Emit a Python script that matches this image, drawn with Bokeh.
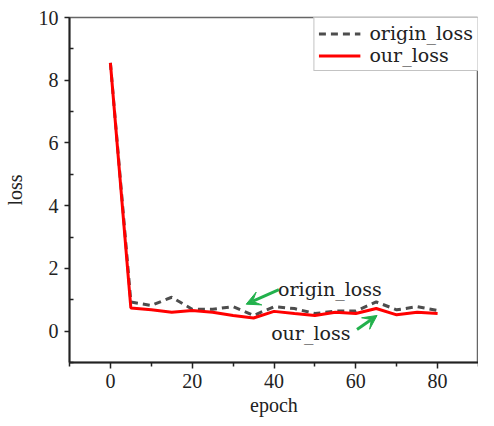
from bokeh.plotting import figure
from bokeh.models import FixedTicker, Legend, LegendItem, Label, Arrow, VeeHead, Range1d
from bokeh.embed import file_html
from bokeh.resources import INLINE

epochs = [0, 5, 10, 15, 20, 25, 30, 35, 40, 45, 50, 55, 60, 65, 70, 75, 80]
origin_loss = [8.55, 0.93, 0.82, 1.08, 0.70, 0.70, 0.78, 0.50, 0.78, 0.72, 0.56, 0.64, 0.64, 0.93, 0.68, 0.78, 0.66]
our_loss = [8.55, 0.74, 0.68, 0.60, 0.66, 0.60, 0.50, 0.42, 0.63, 0.56, 0.50, 0.60, 0.56, 0.72, 0.52, 0.60, 0.56]
x_ticks = [0, 20, 40, 60, 80]
x_minor = [-10, 10, 30, 50, 70, 90]
y_ticks = [0, 2, 4, 6, 8, 10]
y_minor = [-1, 1, 3, 5, 7, 9]

SERIF = "Liberation Serif"
TXT = "DejaVu Serif"

p = figure(width=478, height=418, output_backend="svg", toolbar_location=None,
           x_range=Range1d(-10, 90), y_range=Range1d(-1, 10),
           min_border_left=60, min_border_top=17, min_border_right=0, min_border_bottom=50)
p.grid.visible = False
p.background_fill_color = "white"
p.border_fill_color = "white"
p.outline_line_color = "#666666"
p.outline_line_width = 1.5

r_orig = p.line(epochs, origin_loss, line_color="#4d4d4d", line_width=3, line_dash="7 5")
r_our = p.line(epochs, our_loss, line_color="#ff0000", line_width=3)

for axes in (p.xaxis, p.yaxis):
    axes.axis_line_color = "#222222"
    axes.axis_line_width = 2
    axes.major_tick_line_color = "#222222"
    axes.minor_tick_line_color = "#222222"
    axes.major_tick_line_width = 1.5
    axes.minor_tick_line_width = 1.5
    axes.major_label_text_font = SERIF
    axes.major_label_text_font_size = "20px"
    axes.major_label_text_color = "#222222"
    axes.axis_label_text_font = SERIF
    axes.axis_label_text_font_size = "20px"
    axes.axis_label_text_font_style = "normal"
    axes.axis_label_text_color = "#222222"

p.xaxis.ticker = FixedTicker(ticks=x_ticks, minor_ticks=x_minor)
p.xaxis.major_tick_out = 6
p.xaxis.major_tick_in = 0
p.xaxis.minor_tick_out = 4
p.xaxis.minor_tick_in = 0
p.xaxis.axis_label = "epoch"
p.xaxis.major_label_standoff = 5
p.xaxis.axis_label_standoff = 3

p.yaxis.ticker = FixedTicker(ticks=y_ticks, minor_ticks=y_minor)
p.yaxis.major_tick_out = 5
p.yaxis.major_tick_in = 0
p.yaxis.minor_tick_out = 0
p.yaxis.minor_tick_in = 4
p.yaxis.axis_label = "loss"
p.yaxis.major_label_standoff = 6
p.yaxis.axis_label_standoff = 10

legend = Legend(items=[LegendItem(label="origin_loss", renderers=[r_orig]),
                       LegendItem(label="our_loss", renderers=[r_our])],
                location="top_right", margin=0, padding=4, spacing=0,
                glyph_width=42, glyph_height=21, label_height=21, label_standoff=9,
                label_text_font=TXT, label_text_font_size="19px", label_text_color="#222222",
                border_line_color="#888888", border_line_width=1.5,
                background_fill_alpha=1.0)
p.add_layout(legend)

p.add_layout(Label(x=41, y=1.35, text="origin_loss", text_font=TXT, text_font_size="19px",
                   text_color="#222222", text_baseline="middle", text_align="left"))
p.add_layout(Label(x=39.3, y=-0.06, text="our_loss", text_font=TXT, text_font_size="19px",
                   text_color="#222222", text_baseline="middle", text_align="left"))

green = "#22b14c"
p.add_layout(Arrow(x_start=41.2, y_start=1.32, x_end=33.2, y_end=0.86, line_color=green, line_width=3,
                   end=VeeHead(size=14, fill_color=green, line_color=green, line_width=1)))
p.add_layout(Arrow(x_start=60.3, y_start=0.05, x_end=65.2, y_end=0.5, line_color=green, line_width=3,
                   end=VeeHead(size=14, fill_color=green, line_color=green, line_width=1)))

open("out.html", "w").write(file_html(p, INLINE))
